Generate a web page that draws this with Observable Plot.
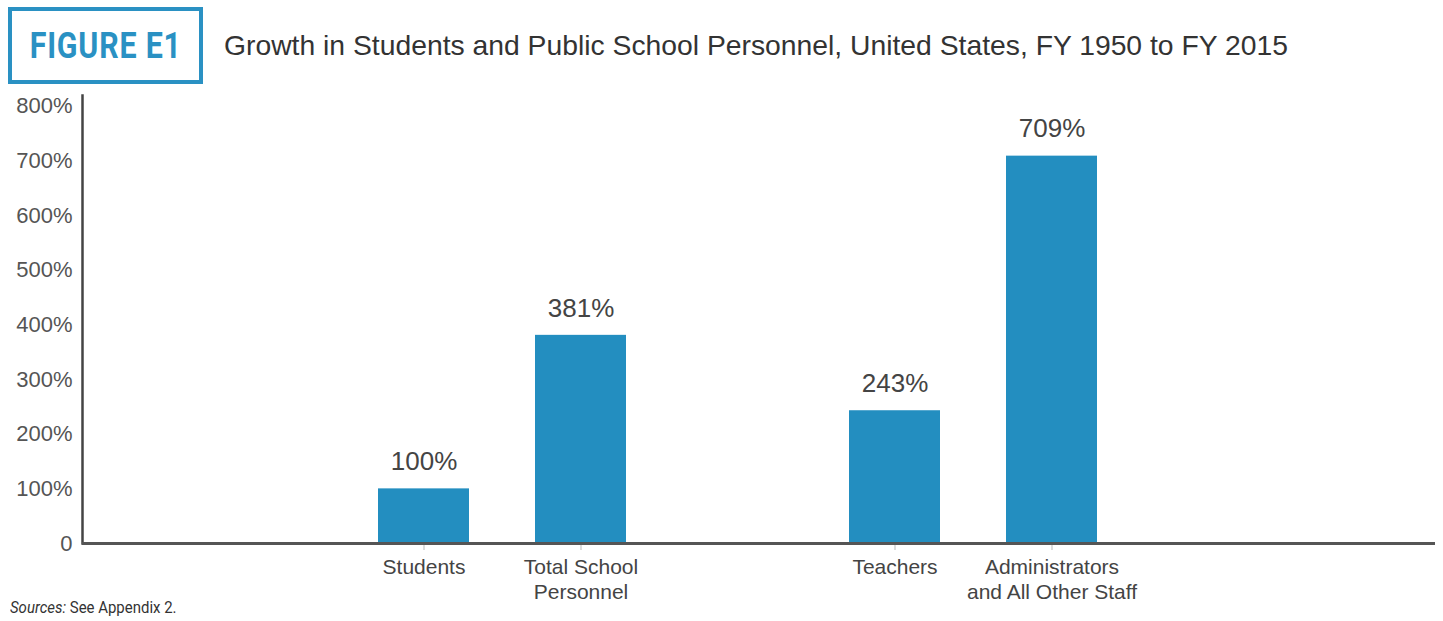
<!DOCTYPE html>
<html>
<head>
<meta charset="utf-8">
<script src="https://cdn.jsdelivr.net/npm/d3@7"></script>
<script src="https://cdn.jsdelivr.net/npm/@observablehq/plot@0.6"></script>
<style>
  html, body { margin: 0; padding: 0; background: #fff; }
  body { width: 1443px; height: 621px; overflow: hidden; font-family: "Liberation Sans", Arial, sans-serif; position: relative; }
  #badge { position: absolute; left: 8px; top: 7px; width: 187px; height: 69px; border: 4px solid #2a91c3;
           display: flex; align-items: center; justify-content: center; white-space: nowrap; }
  #badge span { display: inline-block; font-family: Roboto, "Liberation Sans", sans-serif; font-weight: bold;
           font-size: 37px; color: #2a91c3; transform: scaleX(0.82); letter-spacing: 1px; }
  #title { position: absolute; left: 224px; top: 29px; font-size: 28.3px; color: #333; white-space: nowrap; }
  #chart { position: absolute; left: 0; top: 90px; }
  #caption { position: absolute; left: 10px; top: 597px; white-space: nowrap; transform-origin: left center;
             transform: scaleX(0.88); font-family: Roboto, "Liberation Sans", sans-serif; font-size: 17px; color: #333; }
</style>
</head>
<body>
<div id="badge"><span>FIGURE E1</span></div>
<div id="title">Growth in Students and Public School Personnel, United States, FY 1950 to FY 2015</div>
<div id="chart"></div>
<div id="caption"><i>Sources:</i> See Appendix 2.</div>
<script>
const categories = ["Students", "Total School\nPersonnel", "gap", "Teachers", "Administrators\nand All Other Staff"];
const growth = [100, 381, null, 243, 709];
const valueLabels = ["100%", "381%", "", "243%", "709%"];
const yTicks = [0, 100, 200, 300, 400, 500, 600, 700, 800];

const data = categories.map((c, i) => ({category: c, value: growth[i], label: valueLabels[i]}))
  .filter(d => d.value != null);

const plot = Plot.plot({
  width: 1443,
  height: 522,
  marginLeft: 82,
  marginRight: 8,
  marginTop: 5,
  marginBottom: 69,
  style: {fontFamily: "'Liberation Sans', Arial, sans-serif", background: "transparent"},
  x: {domain: categories, paddingInner: 0.42, paddingOuter: 2.005, align: 0.467, label: null},
  y: {domain: [0, 820], label: null},
  marks: [
    Plot.gridY(yTicks.filter(d => d > 0), {stroke: "#d8dde0", strokeOpacity: 1, strokeWidth: 1.5, x1: 77}),
    Plot.axisY({ticks: yTicks, tickSize: 0, tickPadding: 10, fontSize: 22, fill: "#555",
                tickFormat: d => d === 0 ? "0" : d + "%"}),
    Plot.barY(data, {x: "category", y: "value", fill: "#238ec0"}),
    Plot.text(data, {x: "category", y: "value", text: "label", dy: -27, fontSize: 26, fill: "#444"}),
    Plot.axisX({ticks: categories.filter(c => c !== "gap"), tickSize: 7, stroke: "#bbb", tickPadding: 6,
                fontSize: 21, fill: "#444", lineHeight: 1.19}),
    Plot.frame({anchor: "left", stroke: "#444", strokeWidth: 2.5}),
    Plot.ruleY([0], {stroke: "#555", strokeWidth: 3})
  ]
});
document.getElementById("chart").appendChild(plot);
</script>
</body>
</html>
